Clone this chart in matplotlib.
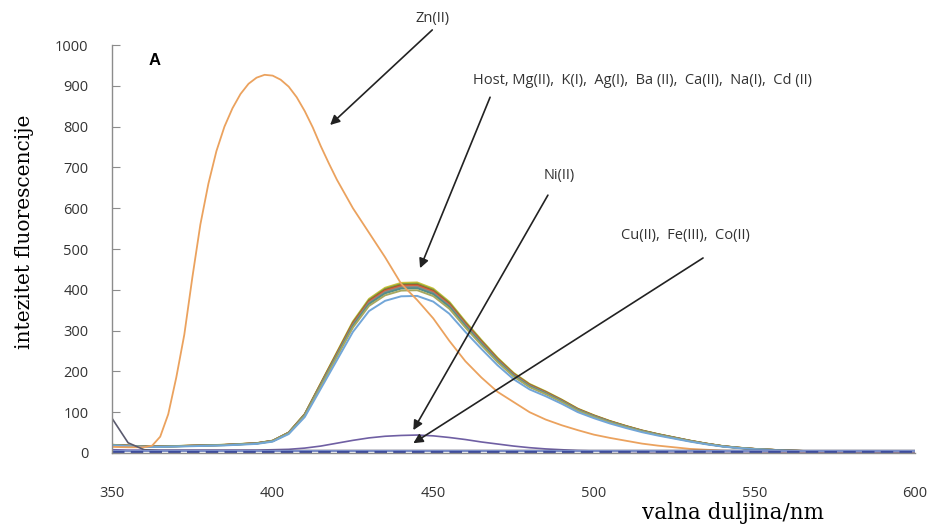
import numpy as np
import matplotlib.pyplot as plt

# wavelength grid (nm)
wl = np.arange(350, 601, 5)

# Zn(II) emission, finer sampling around the peak
zn_wl = [350, 355, 360, 362.5, 365, 367.5, 370, 372.5, 375, 377.5,
         380, 382.5, 385, 387.5, 390, 392.5, 395, 397.5, 400, 402.5,
         405, 407.5, 410, 412.5, 415, 417.5, 420] + list(range(425, 601, 5))
zn = [15, 14, 14, 18, 40, 95, 185, 290, 430, 560,
      660, 740, 800, 845, 880, 905, 920, 927, 925, 915,
      898, 872, 838, 798, 752, 710, 670,
      600, 540, 480, 415, 375, 330, 275, 225, 185, 150,
      125, 100, 82, 68, 56, 45, 37, 30, 23, 18,
      14, 10, 8, 6, 5, 4, 3, 3, 3, 3,
      3, 3, 3, 3, 3, 3]

# Host-type profile (Host, Mg, K, Ag, Ba, Ca, Na, Cd)
host = [20, 18, 16, 16, 17, 18, 19, 20, 22, 24,
        30, 50, 95, 170, 245, 320, 375, 402, 414, 415,
        400, 368, 320, 275, 232, 195, 168, 150, 130, 108,
        92, 78, 66, 55, 46, 38, 30, 23, 17, 13,
        10, 8, 6, 5, 4, 3, 3, 3, 3, 3, 3]
host_peaks = [418, 415, 412, 410, 407, 404, 399, 385]
host_colors = ['#c9c23a', '#7f9c3c', '#a0522d', '#d8643c',
               '#8a8a8a', '#4f8f8a', '#a8a860', '#72a6d8']

# Ni(II)
ni = [8, 7, 7, 7, 7, 7, 7, 7, 7, 7,
      8, 9, 12, 17, 24, 31, 37, 41, 43, 44,
      42, 38, 33, 27, 22, 17, 13, 10, 8, 6,
      5, 4, 4, 3, 3, 3, 3, 3, 3, 3,
      3, 3, 3, 3, 3, 3, 3, 3, 3, 3, 3]

# Cu(II), Fe(III), Co(II) - quenched
cu = [3] * len(wl)
fe = [5] * len(wl)
co = [85, 25, 8, 6, 6, 6, 6, 6, 6, 6,
      6, 6, 6, 6, 6, 6, 6, 6, 6, 6,
      6, 6, 6, 6, 6, 6, 6, 6, 6, 6,
      6, 6, 6, 6, 6, 6, 6, 6, 6, 6,
      6, 6, 6, 6, 6, 6, 6, 6, 6, 6, 6]

fig = plt.figure(figsize=(9.32, 5.26), dpi=100)
ax = fig.add_axes([0.1202, 0.1388, 0.8616, 0.7756])

host = np.array(host, dtype=float)
for pk, c in zip(host_peaks, host_colors):
    ax.plot(wl, host * pk / host.max(), color=c, lw=1.4)

ax.plot(zn_wl, zn, color='#eba25e', lw=1.3)
ax.plot(wl, ni, color='#6f5fa3', lw=1.2)
ax.plot(wl, co, color='#5a5a6e', lw=1.2)
ax.plot(wl, fe, color='#7d8fc8', lw=1.5)
ax.plot(wl, cu, color='#3d4c9e', lw=1.5, ls=(0, (6, 3)))

ax.set_xlim(350, 600)
ax.set_ylim(0, 1000)
ax.set_xticks([350, 400, 450, 500, 550, 600])
ax.set_yticks(range(0, 1001, 100))

for s in ['top', 'right']:
    ax.spines[s].set_visible(False)
for s in ['left', 'bottom']:
    ax.spines[s].set_color('#8c8c8c')
    ax.spines[s].set_linewidth(1.0)

tick_font = 'Open Sans'
ax.tick_params(axis='y', direction='in', length=6, color='#8c8c8c', pad=17,
               labelsize=10.5, labelcolor='#333333')
ax.tick_params(axis='x', length=0, pad=24, labelsize=10.5, labelcolor='#333333')
for lab in ax.get_xticklabels() + ax.get_yticklabels():
    lab.set_fontfamily(tick_font)

ax.set_ylabel('intezitet fluorescencije', family='DejaVu Serif', fontsize=14.5)
ax.set_xlabel('valna duljina/nm', family='DejaVu Serif', fontsize=15.5)
ax.yaxis.set_label_coords(-0.097, 0.542)
ax.xaxis.set_label_coords(0.773, -0.12)

ax.text(363.4, 963, 'A', fontsize=12, fontweight='bold', family='Liberation Sans',
        ha='center', va='center')

arrow = dict(arrowstyle='-|>', color='#222222', lw=1.2, mutation_scale=14,
             shrinkA=0, shrinkB=0)
txt = dict(fontsize=10.5, family='Open Sans', color='#333333', ha='center', va='center')

ax.text(449.9, 1066, 'Zn(II)', clip_on=False, **txt)
ax.annotate('', xy=(417.9, 804), xytext=(449.7, 1037), arrowprops=arrow,
            annotation_clip=False)

ax.text(515.2, 914, 'Host, Mg(II),  K(I),  Ag(I),  Ba (II),  Ca(II),  Na(I),  Cd (II)', **txt)
ax.annotate('', xy=(445.9, 453), xytext=(467.7, 872), arrowprops=arrow)

ax.text(489.2, 681, 'Ni(II)', **txt)
ax.annotate('', xy=(443.8, 56), xytext=(485.7, 632), arrowprops=arrow)

ax.text(528.5, 532, 'Cu(II),  Fe(III),  Co(II)', **txt)
ax.annotate('', xy=(443.8, 24), xytext=(534.0, 478), arrowprops=arrow)

fig.savefig('out.png', dpi=100)
